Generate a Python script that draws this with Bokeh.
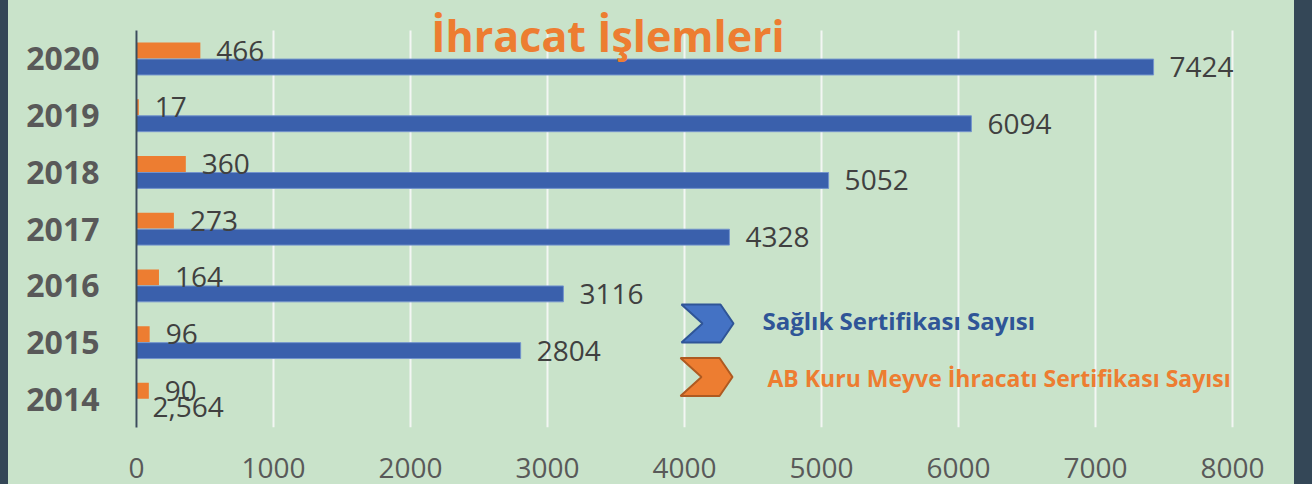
from bokeh.plotting import figure
from bokeh.models import Range1d, ColumnDataSource, FixedTicker, Label, Div
from bokeh.layouts import row
from bokeh.transform import dodge
from bokeh.embed import file_html
from bokeh.resources import INLINE
from bokeh.core.properties import value

# ---------------- data ----------------
years = ["2014", "2015", "2016", "2017", "2018", "2019", "2020"]
saglik = [0, 2804, 3116, 4328, 5052, 6094, 7424]          # 2014 bar not drawn in source (text value)
saglik_labels = ["2,564", "2804", "3116", "4328", "5052", "6094", "7424"]
ab_kuru = [90, 96, 164, 273, 360, 17, 466]
ab_labels = ["90", "96", "164", "273", "360", "17", "466"]
x_ticks = [0, 1000, 2000, 3000, 4000, 5000, 6000, 7000, 8000]
title_text = "İhracat İşlemleri"
legend_names = ["Sağlık Sertifikası Sayısı", "AB Kuru Meyve İhracatı Sertifikası Sayısı"]

# ---------------- style ----------------
FONT = "Open Sans"
BG = "#c9e3ca"
DARK = "#344757"
BLUE = "#3a60ac"
ORANGE = "#ed7d31"
LABEL_C = "#404040"
AXIS_C = "#595959"
GRID_C = "#f3f6f3"

PAGE_W, PAGE_H = 1312, 484
LEFT_STRIP, RIGHT_STRIP = 8, 18
FIG_W, FIG_H = PAGE_W - LEFT_STRIP - RIGHT_STRIP, PAGE_H
PX_PER_UNIT = 1096 / 8000.0
BORDER_L, BORDER_B = 128, 57
PLOT_H = 397                      # height of the category band (gridline length)
FRAME_W = FIG_W - BORDER_L
FRAME_H = FIG_H - BORDER_B
OX, OY = LEFT_STRIP + BORDER_L, FRAME_H   # page position of frame origin (bottom-left)

n = len(years)
ypos = [i + 0.5 for i in range(n)]

p = figure(width=FIG_W, height=FIG_H, output_backend="svg", toolbar_location=None,
           y_range=Range1d(0, n * FRAME_H / PLOT_H),
           x_range=Range1d(0, FRAME_W / PX_PER_UNIT),
           min_border_left=BORDER_L, min_border_right=0,
           min_border_top=0, min_border_bottom=BORDER_B)
p.extra_x_ranges = {"px": Range1d(0, FRAME_W)}
p.extra_y_ranges = {"py": Range1d(0, FRAME_H)}

p.background_fill_color = BG
p.border_fill_color = BG
p.outline_line_color = None
p.styles = {"background-color": BG}
p.xgrid.grid_line_color = None
p.ygrid.grid_line_color = None

# vertical gridlines limited to the category band
p.segment(x0=x_ticks, x1=x_ticks, y0=[0] * len(x_ticks), y1=[n] * len(x_ticks),
          line_color=GRID_C, line_width=2)

src = ColumnDataSource(dict(year=years, ypos=ypos, saglik=saglik, ab=ab_kuru,
                            s_lab=saglik_labels, a_lab=ab_labels))

OFF_A = 0.147
OFF_S = -0.144
H = 0.28

p.hbar(y=dodge("ypos", OFF_A), left=0, right="ab", height=H, source=src,
       fill_color=ORANGE, line_color=None)
p.hbar(y=dodge("ypos", OFF_S), left=0, right="saglik", height=H, source=src,
       fill_color=BLUE, line_color="#7393cc", line_width=1)

p.text(x="ab", y=dodge("ypos", OFF_A), text="a_lab", source=src,
       x_offset=16, text_baseline="middle", text_align="left",
       text_font=value(FONT), text_font_size="28px", text_color=LABEL_C)
p.text(x="saglik", y=dodge("ypos", OFF_S), text="s_lab", source=src,
       x_offset=16, text_baseline="middle", text_align="left",
       text_font=value(FONT), text_font_size="28px", text_color=LABEL_C)

# axes
xa = p.xaxis[0]
xa.ticker = FixedTicker(ticks=x_ticks)
xa.axis_line_color = None
xa.major_tick_line_color = None
xa.minor_tick_line_color = None
xa.major_label_text_font = FONT
xa.major_label_text_font_size = "28px"
xa.major_label_text_color = AXIS_C
xa.major_label_standoff = 24

ya = p.yaxis[0]
ya.ticker = FixedTicker(ticks=ypos)
ya.bounds = (0, n)
ya.major_label_overrides = {yp: yr for yp, yr in zip(ypos, years)}
ya.axis_line_color = "#3b4d5c"
ya.axis_line_width = 2
ya.major_tick_line_color = None
ya.minor_tick_line_color = None
ya.major_label_text_font = FONT
ya.major_label_text_font_size = "32px"
ya.major_label_text_font_style = "bold"
ya.major_label_text_color = AXIS_C
ya.major_label_standoff = 31

# legend (chevrons + text); page coordinates converted to frame pixels
def fx(px):
    return px - OX

def fy(py):
    return OY - py

def chevron(cx, cy, w=52, h=38, notch=21, head=13):
    x0 = cx - w / 2
    xs = [x0, x0 + w - head, x0 + w, x0 + w - head, x0, x0 + notch]
    ys = [cy + h / 2, cy + h / 2, cy, cy - h / 2, cy - h / 2, cy]
    return xs, ys

bx, by = chevron(fx(707), fy(323))
ox, oy = chevron(fx(706), fy(376.5))
p.patches(xs=[bx, ox], ys=[by, oy], fill_color=["#4472c4", ORANGE],
          line_color=["#2f5597", "#ae5a21"], line_width=2,
          x_range_name="px", y_range_name="py")

p.add_layout(Label(x=fx(762), y=fy(320), text=legend_names[0],
                   x_range_name="px", y_range_name="py",
                   text_font=FONT, text_font_style="bold", text_font_size="24px",
                   text_color="#2f5597", text_baseline="alphabetic"))
p.add_layout(Label(x=fx(767), y=fy(377.5), text=legend_names[1],
                   x_range_name="px", y_range_name="py",
                   text_font=FONT, text_font_style="bold", text_font_size="23px",
                   text_color=ORANGE, text_baseline="alphabetic"))

p.add_layout(Label(x=fx(607.5), y=fy(35), text=title_text,
                   x_range_name="px", y_range_name="py",
                   text_font=FONT, text_font_style="bold", text_font_size="43px",
                   text_color=ORANGE, text_align="center", text_baseline="alphabetic"))

left_strip = Div(width=LEFT_STRIP, height=FIG_H, margin=0, styles={"background-color": DARK})
right_strip = Div(width=RIGHT_STRIP, height=FIG_H, margin=0, styles={"background-color": DARK})
layout = row(left_strip, p, right_strip, spacing=0, styles={"background-color": BG})

open("out.html", "w").write(file_html(layout, INLINE))
